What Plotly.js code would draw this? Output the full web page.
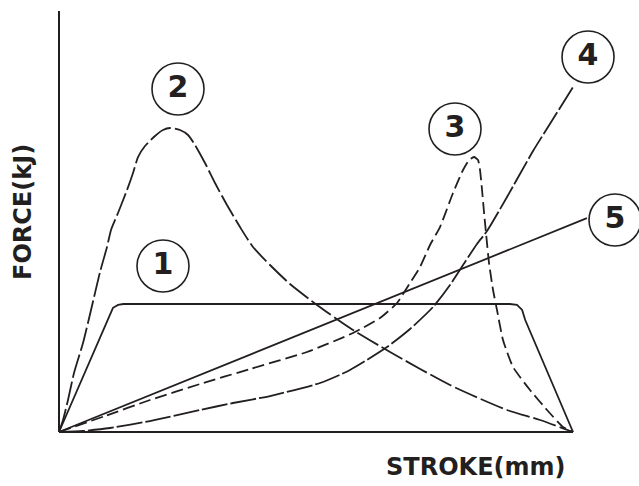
<!DOCTYPE html>
<html>
<head>
<meta charset="utf-8">
<script src="https://cdn.plot.ly/plotly-3.0.1.min.js"></script>
<style>html,body{margin:0;padding:0;background:#fff;}#chart{width:639px;height:486px;}</style>
</head>
<body>
<div id="chart"></div>
<script>
// Stroke (x) and force (y) in relative units, 0..100 of the axes
const curve1X = [0, 10.5, 11.5, 12.5, 87.7, 89.1, 90.1, 90.7, 100];
const curve1Y = [0, 29.5, 30.2, 30.4, 30.4, 30.2, 29.0, 26.6, 0];

const curve2X = [0, 0.78, 1.75, 2.92, 4.67, 6.23, 7.98, 9.34, 10.12, 11.48, 13.23, 14.40, 15.37, 16.73, 18.68, 20.23, 21.60, 23.54, 25.10, 26.46, 28.40, 30.35, 32.68, 35.21, 37.74, 41.05, 44.94, 50.19, 56.61, 64.40, 76.07, 87.16, 93.58, 100];
const curve2Y = [0, 2.85, 7.60, 14.01, 21.14, 28.98, 38.00, 43.94, 47.98, 52.02, 57.48, 61.52, 65.32, 67.93, 70.31, 71.73, 72.21, 71.73, 70.55, 68.17, 63.90, 59.14, 53.92, 48.69, 43.94, 39.67, 35.15, 30.17, 24.70, 19.00, 11.16, 5.23, 2.85, 0];

const curve3X = [0, 8.95, 17.70, 27.43, 37.16, 48.25, 57.20, 62.45, 65.76, 68.29, 70.23, 72.18, 74.12, 76.65, 78.60, 79.77, 80.74, 81.52, 81.91, 82.30, 82.68, 83.07, 83.66, 84.44, 85.21, 86.38, 88.33, 91.63, 94.94, 98.05, 100];
const curve3Y = [0, 3.80, 7.60, 11.40, 14.96, 19.00, 23.52, 27.08, 30.64, 35.39, 39.19, 44.42, 48.69, 56.77, 62.23, 64.61, 65.32, 64.61, 62.23, 57.48, 52.26, 47.27, 40.14, 33.73, 28.98, 21.85, 15.44, 9.98, 5.23, 1.19, 0];

const curve4X = [0, 4.67, 9.92, 17.70, 27.43, 33.85, 41.05, 50.78, 56.61, 63.81, 68.29, 72.76, 76.07, 78.99, 81.32, 83.27, 87.16, 92.22, 96.11, 100];
const curve4Y = [0, 0.24, 0.95, 2.61, 5.23, 6.89, 8.55, 11.64, 14.73, 20.19, 24.47, 29.69, 34.92, 40.38, 44.66, 47.74, 55.82, 66.75, 74.35, 81.95];

const curve5X = [0, 102.7];
const curve5Y = [0, 50.8];

const labelText = ["1", "2", "3", "4", "5"];
const labelX = [20.23, 23.15, 77.04, 102.92, 108.17];
const labelY = [39.43, 81.47, 71.97, 89.07, 50.36];

const xTitle = "STROKE(mm)";
const yTitle = "FORCE(kJ)";

const ink = "#231f20";

const traces = [
  {x: curve1X, y: curve1Y, mode: "lines", line: {color: ink, width: 1.8, dash: "solid"}},
  {x: curve2X, y: curve2Y, mode: "lines", line: {color: ink, width: 1.8, dash: "24px,4px", shape: "spline", smoothing: 0.6}},
  {x: curve3X, y: curve3Y, mode: "lines", line: {color: ink, width: 1.8, dash: "12px,5px", shape: "spline", smoothing: 0.5}},
  {x: curve4X, y: curve4Y, mode: "lines", line: {color: ink, width: 1.8, dash: "26px,3px", shape: "spline", smoothing: 0.6}},
  {x: curve5X, y: curve5Y, mode: "lines", line: {color: ink, width: 1.8}},
  {x: labelX, y: labelY, text: labelText, mode: "markers+text", textposition: "middle center",
   cliponaxis: false,
   marker: {symbol: "circle-open", size: 52, color: ink, line: {color: ink, width: 1.6}},
   textfont: {family: "DejaVu Sans", size: 30, color: ink, weight: "bold"}}
];

const layout = {
  width: 639, height: 486,
  margin: {l: 50, r: 19, t: 5, b: 46, pad: 0},
  paper_bgcolor: "#ffffff", plot_bgcolor: "#ffffff",
  showlegend: false,
  xaxis: {range: [-1.751, 109.14], showgrid: false, zeroline: false, showticklabels: false, ticks: "", showline: false, fixedrange: true},
  yaxis: {range: [-1.900, 101.43], showgrid: false, zeroline: false, showticklabels: false, ticks: "", showline: false, fixedrange: true},
  shapes: [
    {type: "line", xref: "x", yref: "y", x0: 0, x1: 100, y0: 0, y1: 0, line: {color: ink, width: 2}},
    {type: "line", xref: "x", yref: "y", x0: 0, x1: 0, y0: 0, y1: 100, line: {color: ink, width: 2}}
  ],
  annotations: [
    {text: xTitle, xref: "paper", yref: "paper", x: (475 - 50) / 570, y: -0.0621, xanchor: "center", yanchor: "middle", showarrow: false,
     font: {family: "DejaVu Sans", size: 24, color: ink, weight: "bold"}},
    {text: yTitle, xref: "paper", yref: "paper", x: (23 - 50) / 570, y: 0.5241, xanchor: "center", yanchor: "middle", showarrow: false, textangle: -90,
     font: {family: "DejaVu Sans", size: 24, color: ink, weight: "bold"}}
  ]
};

Plotly.newPlot("chart", traces, layout, {staticPlot: true, displayModeBar: false});
</script>
</body>
</html>
